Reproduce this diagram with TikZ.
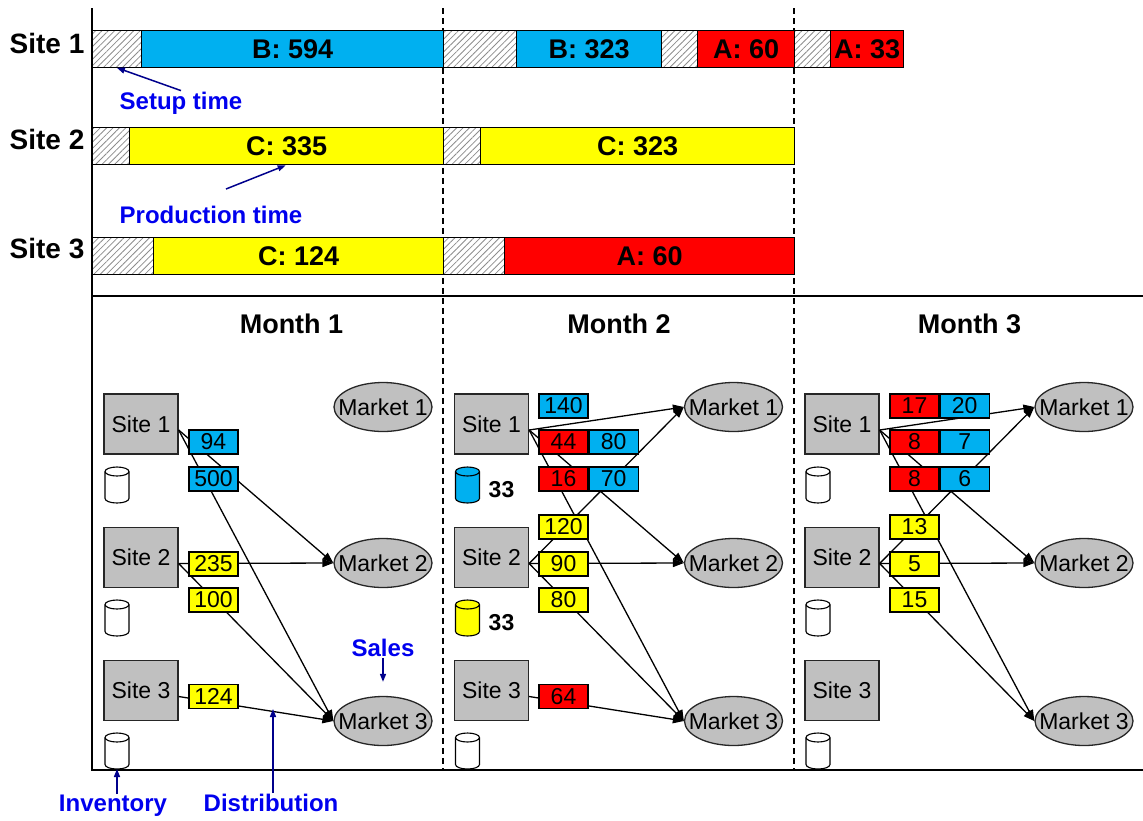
\documentclass[tikz,border=0pt]{standalone}
\usepackage{fontspec}
\setmainfont{Liberation Sans}
\usepackage{tikz}
\usetikzlibrary{shapes.geometric, arrows.meta, positioning, patterns.meta}
\usepackage{xcolor}
\definecolor{barblue}{RGB}{0,176,240}
\definecolor{baryellow}{RGB}{255,255,0}
\definecolor{barred}{RGB}{255,0,0}
\definecolor{boxgray}{RGB}{192,192,192}
\definecolor{noteblue}{RGB}{0,0,238}
\definecolor{notenavy}{RGB}{0,0,140}
\tikzstyle{rowlabel} = [font=\bfseries\fontsize{28}{28}\selectfont, anchor=base]
\tikzstyle{monthlabel} = [font=\bfseries\fontsize{27}{27}\selectfont, anchor=base]
\tikzstyle{setup} = [rectangle, draw=black, line width=1.3pt, pattern={Lines[angle=45,distance=4.5pt,line width=0.8pt]}, pattern color=gray!90, minimum height=37, inner sep=0pt, anchor=north west]
\tikzstyle{job} = [rectangle, draw=black, line width=1.3pt, minimum height=37, inner sep=0pt, anchor=north west, font=\bfseries\fontsize{27}{27}\selectfont]
\tikzstyle{site} = [rectangle, draw=black!85, fill=boxgray, line width=1.3pt, minimum width=74, minimum height=60, inner sep=0pt, font=\fontsize{23}{23}\selectfont]
\tikzstyle{market} = [ellipse, draw=black!85, fill=boxgray, line width=1.3pt, minimum width=98, minimum height=49, inner xsep=-14pt, inner ysep=-3pt, font=\fontsize{23}{23}\selectfont]
\tikzstyle{qty} = [rectangle, draw=black, line width=1.2pt, minimum width=49, minimum height=24, inner sep=0pt, font=\fontsize{23}{23}\selectfont]
\tikzstyle{level} = [font=\bfseries\fontsize{23}{23}\selectfont, inner sep=1pt]
\tikzstyle{note} = [font=\bfseries\fontsize{24}{24}\selectfont, text=noteblue, inner sep=1pt]
\tikzstyle{flow} = [line width=1.3pt, -{Triangle[length=11pt,width=8pt]}]
\tikzstyle{pointer} = [draw=notenavy, line width=1.5pt, -{Triangle[length=8pt,width=6pt]}]
\tikzset{pics/stock/.style={code={
  \draw [fill=#1, line width=1.1pt] (-12,-13.5) -- (-12,13.5)
    arc [start angle=180, end angle=360, x radius=12pt, y radius=4.5pt] -- (12,-13.5)
    arc [start angle=0, end angle=180, x radius=12pt, y radius=4.5pt] -- cycle;
  \draw [line width=1.1pt] (-12,-13.5) arc [start angle=180, end angle=360, x radius=12pt, y radius=4.5pt];
  \coordinate (-base) at (0,18);
}}}

\begin{document}
\begin{tikzpicture}[x=1pt, y=-1pt]
\useasboundingbox (0,0) rectangle (1143,820);

% axes and month separators
\draw [line width=1.5pt] (92,8) -- (92,770) -- (1143,770);
\draw [line width=1.5pt] (92,296) -- (1143,296);
\draw [line width=1.5pt, dash pattern=on 6pt off 4pt] (443,8) -- (443,770);
\draw [line width=1.5pt, dash pattern=on 6pt off 4pt] (794,8) -- (794,770);

% schedule
\node (r1) [rowlabel] at (47,53) {Site 1};
\node (r2) [rowlabel] at (47,149) {Site 2};
\node (r3) [rowlabel] at (47,258) {Site 3};

\node (g1s1) [setup, minimum width=49] at (92,30) {};
\node (g1b) [job, fill=barblue, minimum width=302] at (141,30) {B: 594};
\node (g1s2) [setup, minimum width=73] at (443,30) {};
\node (g1b2) [job, fill=barblue, minimum width=145] at (516,30) {B: 323};
\node (g1s3) [setup, minimum width=36] at (661,30) {};
\node (g1a) [job, fill=barred, minimum width=97] at (697,30) {A: 60};
\node (g1s4) [setup, minimum width=36] at (794,30) {};
\node (g1a2) [job, fill=barred, minimum width=73] at (830,30) {A: 33};

\node (g2s1) [setup, minimum width=37] at (92,127) {};
\node (g2c) [job, fill=baryellow, minimum width=314] at (129,127) {C: 335};
\node (g2s2) [setup, minimum width=37] at (443,127) {};
\node (g2c2) [job, fill=baryellow, minimum width=314] at (480,127) {C: 323};

\node (g3s1) [setup, minimum width=61] at (92,237) {};
\node (g3c) [job, fill=baryellow, minimum width=290] at (153,237) {C: 124};
\node (g3s2) [setup, minimum width=61] at (443,237) {};
\node (g3a) [job, fill=barred, minimum width=290] at (504,237) {A: 60};

\node (setuptxt) [note] at (181,103) {Setup time};
\draw [pointer] (setuptxt.north) -- (g1s1.south);
\node (prodtxt) [note] at (211,215) {Production time};
\coordinate (prodtail) at (226,189);
\draw [pointer] (prodtail) -- ([xshift=-1pt]g2c.south);

% months
\node (mon1) [monthlabel] at (291.5,333) {Month 1};
\node (mon2) [monthlabel] at (619,333) {Month 2};
\node (mon3) [monthlabel] at (969.5,333) {Month 3};

% month 1
\node (s11) [site] at (141,424) {Site 1};
\node (s12) [site] at (141,557.5) {Site 2};
\node (s13) [site] at (141,690.5) {Site 3};
\pic (c11) at (117,485) {stock=white};
\pic (c12) at (117,618) {stock=white};
\pic (c13) at (117,751) {stock=white};
\node (m11) [market] at (383,407) {Market 1};
\node (m12) [market] at (383,563) {Market 2};
\node (m13) [market] at (383,721) {Market 3};

\draw [flow] ([yshift=-6pt]s11.east) -- (m12.west);
\draw [flow] ([yshift=-6pt]s11.east) -- (m13.west);
\draw [flow] ([yshift=-6pt]s12.east) -- (m12.west);
\draw [flow] ([yshift=-6pt]s12.east) -- (m13.west);
\draw [flow] ([yshift=-6pt]s13.east) -- (m13.west);

\node (q11) [qty, fill=barblue] at (213.5,442) {94};
\node (q12) [qty, fill=barblue] at (213.5,479) {500};
\node (q13) [qty, fill=baryellow] at (213.5,564) {235};
\node (q14) [qty, fill=baryellow] at (213.5,600) {100};
\node (q15) [qty, fill=baryellow] at (213.5,696.5) {124};

% month 2
\node (s21) [site] at (491.5,424) {Site 1};
\node (s22) [site] at (491.5,557.5) {Site 2};
\node (s23) [site] at (491.5,690.5) {Site 3};
\pic (c21) at (467.5,485) {stock=barblue};
\pic (c22) at (467.5,618) {stock=baryellow};
\pic (c23) at (467.5,751) {stock=white};
\node (l21) [level] at (501.5,490) {33};
\node (l22) [level] at (501.5,622.5) {33};
\node (m21) [market] at (733.5,407) {Market 1};
\node (m22) [market] at (733.5,563) {Market 2};
\node (m23) [market] at (733.5,721) {Market 3};

\draw [flow] ([yshift=-6pt]s21.east) -- (m21.west);
\draw [flow] ([yshift=-6pt]s21.east) -- (m22.west);
\draw [flow] ([yshift=-6pt]s21.east) -- (m23.west);
\draw [flow] ([yshift=-6pt]s22.east) -- (m21.west);
\draw [flow] ([yshift=-6pt]s22.east) -- (m22.west);
\draw [flow] ([yshift=-6pt]s22.east) -- (m23.west);
\draw [flow] ([yshift=-6pt]s23.east) -- (m23.west);

\node (q21) [qty, fill=barblue] at (563.5,406) {140};
\node (q22) [qty, fill=barred] at (563.5,442) {44};
\node (q22b) [qty, fill=barblue, right=0pt of q22] {80};
\node (q23) [qty, fill=barred] at (563.5,479) {16};
\node (q23b) [qty, fill=barblue, right=0pt of q23] {70};
\node (q24) [qty, fill=baryellow] at (563.5,527) {120};
\node (q25) [qty, fill=baryellow] at (563.5,564) {90};
\node (q26) [qty, fill=baryellow] at (563.5,600) {80};
\node (q27) [qty, fill=barred] at (563.5,696.5) {64};

% month 3
\node (s31) [site] at (842,424) {Site 1};
\node (s32) [site] at (842,557.5) {Site 2};
\node (s33) [site] at (842,690.5) {Site 3};
\pic (c31) at (818,485) {stock=white};
\pic (c32) at (818,618) {stock=white};
\pic (c33) at (818,751) {stock=white};
\node (m31) [market] at (1084,407) {Market 1};
\node (m32) [market] at (1084,563) {Market 2};
\node (m33) [market] at (1084,721) {Market 3};

\draw [flow] ([yshift=-6pt]s31.east) -- (m31.west);
\draw [flow] ([yshift=-6pt]s31.east) -- (m32.west);
\draw [flow] ([yshift=-6pt]s31.east) -- (m33.west);
\draw [flow] ([yshift=-6pt]s32.east) -- (m31.west);
\draw [flow] ([yshift=-6pt]s32.east) -- (m32.west);
\draw [flow] ([yshift=-6pt]s32.east) -- (m33.west);

\node (q31) [qty, fill=barred] at (914.5,406) {17};
\node (q31b) [qty, fill=barblue, right=0pt of q31] {20};
\node (q32) [qty, fill=barred] at (914.5,442) {8};
\node (q32b) [qty, fill=barblue, right=0pt of q32] {7};
\node (q33) [qty, fill=barred] at (914.5,479) {8};
\node (q33b) [qty, fill=barblue, right=0pt of q33] {6};
\node (q34) [qty, fill=baryellow] at (914.5,527) {13};
\node (q35) [qty, fill=baryellow] at (914.5,564) {5};
\node (q36) [qty, fill=baryellow] at (914.5,600) {15};

% legend notes
\node (salestxt) [note] at (383,648) {Sales};
\draw [pointer] (salestxt.south) -- ([yshift=14pt]m13.north);
\node (invtxt) [note] at (113,806) {Inventory};
\draw [pointer] (c13-base |- invtxt.north) -- (c13-base);
\node (disttxt) [note] at (271,803) {Distribution};
\coordinate (distpt) at (273,709);
\draw [pointer] (distpt |- disttxt.north) -- (distpt);

\end{tikzpicture}
\end{document}
